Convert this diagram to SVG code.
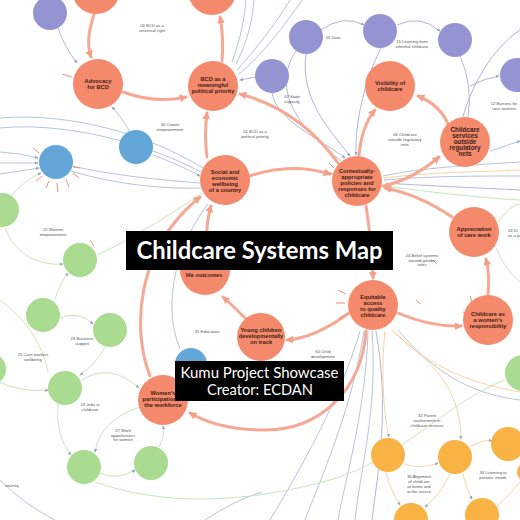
<svg xmlns="http://www.w3.org/2000/svg" width="520" height="520" viewBox="0 0 520 520">
<style>
.bg{fill:#ffffff}
.or{fill:#f4896c}
.pu{fill:#9594d3}
.bl{fill:#62a7d8}
.gr{fill:#a9db90}
.ye{fill:#f9b244}
.em{stroke:#f6a893;stroke-width:3;fill:none;stroke-linecap:round}
.eb{stroke:#b6c4db;stroke-width:1;fill:none}
.ep{stroke:#b3b4dd;stroke-width:1;fill:none}
.eg{stroke:#c9e5b9;stroke-width:1;fill:none}
.ey{stroke:#f4d6a3;stroke-width:1;fill:none}
.st{stroke:#ef8f78;stroke-width:1;fill:none}
.nt{font-family:"Liberation Sans",Arial,sans-serif;font-weight:bold;font-size:5.7px;fill:#3b1d14;text-anchor:middle}
.nt2{font-size:6.4px}
.lt{font-family:"Liberation Sans",Arial,sans-serif;font-size:4.2px;fill:#555;text-anchor:middle}
.tb{fill:#000000}
.tt{font-family:Lato,"Open Sans",sans-serif;font-weight:bold;font-size:24px;fill:#ffffff;text-anchor:middle}
.kt{font-family:Lato,"Open Sans",sans-serif;font-size:15px;fill:#ffffff;text-anchor:middle}
</style>
<defs>
<marker id="ah" viewBox="0 0 10 10" refX="8" refY="5" markerWidth="2.6" markerHeight="2.6" orient="auto"><path d="M0,0 L10,5 L0,10 z" fill="#f3a08a"/></marker>
<marker id="at" viewBox="0 0 10 10" refX="8" refY="5" markerWidth="4" markerHeight="4" orient="auto"><path d="M0,1 L10,5 L0,9 z" fill="#9aa6bf"/></marker>
</defs>
<rect class="bg" x="0" y="0" width="520" height="520"/>
<g id="connectors">
<path class="eb" d="M130,132 Q120,115 112,107" marker-end="url(#at)"/>
<path class="eb" d="M153,155 Q180,165 200,176" marker-end="url(#at)"/>
<path class="eb" d="M0,128 C60,122 140,140 201,172"/>
<path class="eb" d="M0,118 C70,112 150,135 203,168"/>
<path class="eb" d="M0,152 Q20,153 38,158" marker-end="url(#at)"/>
<path class="eb" d="M0,163 L38,163" marker-end="url(#at)"/>
<path class="eb" d="M0,174 Q20,171 39,168" marker-end="url(#at)"/>
<path class="eb" d="M72,166 C110,175 160,180 200,183"/>
<path class="eb" d="M71,171 C120,186 170,189 201,188"/>
<path class="eb" d="M180,349 C160,300 180,240 208,204"/>
<path class="eb" d="M246,0 C244,25 238,45 232,62"/>
<path class="eb" d="M254,0 C252,28 244,48 236,64"/>
<path class="eb" d="M237,70 C255,50 275,25 290,0"/>
<path class="eb" d="M239,74 C262,55 285,25 302,0"/>
<path class="eb" d="M360,331 C340,400 300,470 270,520"/>
<path class="eb" d="M364,331 C352,410 320,480 305,520"/>
<path class="eb" d="M368,331 C366,410 345,480 338,520"/>
<path class="eb" d="M372,331 C378,410 360,470 355,520"/>
<path class="eb" d="M398,330 C440,380 480,395 520,400"/>
<path class="eb" d="M0,480 Q25,505 55,520"/>
<path class="eb" d="M205,520 Q235,500 262,492"/>
<path class="eb" d="M383,176 C420,168 470,165 520,162"/>
<path class="eb" d="M384,180 C430,176 480,176 520,176"/>
<path class="eb" d="M490,151 Q505,146 520,141" marker-end="url(#at)"/>
<path class="ep" d="M58,28 Q65,48 77,63" marker-end="url(#at)"/>
<path class="ep" d="M321,30 Q343,14 364,25" marker-end="url(#at)"/>
<path class="ep" d="M397,25 Q420,14 440,31" marker-end="url(#at)"/>
<path class="ep" d="M306,54 C300,100 330,130 350,156" marker-end="url(#at)"/>
<path class="ep" d="M272,92 C275,120 322,140 345,158" marker-end="url(#at)"/>
<path class="ep" d="M381,48 C365,80 355,120 356,155" marker-end="url(#at)"/>
<path class="ep" d="M296,51 C270,90 300,130 341,161"/>
<path class="ep" d="M460,56 Q473,85 468,117"/>
<path class="ep" d="M520,30 C490,50 470,90 463,117"/>
<path class="ep" d="M470,86 Q485,78 499,76" marker-end="url(#at)"/>
<path class="ep" d="M256,77 L240,80" marker-end="url(#at)"/>
<path class="ep" d="M385,183 C430,186 480,188 520,190"/>
<path class="ep" d="M376,331 C390,410 378,470 372,520"/>
<path class="eg" d="M12,195 Q25,180 41,173" marker-end="url(#at)"/>
<path class="eg" d="M5,228 C15,255 40,266 63,264" marker-end="url(#at)"/>
<path class="eg" d="M97,255 C130,240 170,215 202,193"/>
<path class="eg" d="M55,299 Q60,283 68,273" marker-end="url(#at)"/>
<path class="eg" d="M60,318 Q78,310 93,324" marker-end="url(#at)"/>
<path class="eg" d="M105,347 Q95,365 80,375" marker-end="url(#at)"/>
<path class="eg" d="M-5,380 Q20,393 48,390" marker-end="url(#at)"/>
<path class="eg" d="M0,300 Q40,330 48,372"/>
<path class="eg" d="M82,380 Q110,362 139,388" marker-end="url(#at)"/>
<path class="eg" d="M58,404 Q55,435 71,455" marker-end="url(#at)"/>
<path class="eg" d="M100,473 Q118,481 135,470" marker-end="url(#at)"/>
<path class="eg" d="M159,447 Q165,436 163,426" marker-end="url(#at)"/>
<path class="eg" d="M140,407 Q100,420 95,452" marker-end="url(#at)"/>
<path class="eg" d="M95,482 C160,505 240,505 330,480 C400,460 450,400 505,380"/>
<path class="eg" d="M498,222 Q510,205 520,204"/>
<path class="eg" d="M496,248 Q505,270 520,282"/>
<path class="eg" d="M385,186 C430,192 480,198 520,200"/>
<path class="ey" d="M385,331 C380,380 385,420 389,437" marker-end="url(#at)"/>
<path class="ey" d="M393,331 C425,360 460,380 461,439" marker-end="url(#at)"/>
<path class="ey" d="M392,330 C430,370 480,385 520,392"/>
<path class="ey" d="M405,464 Q420,470 438,463" marker-end="url(#at)"/>
<path class="ey" d="M470,447 Q482,439 492,441" marker-end="url(#at)"/>
<path class="ey" d="M450,474 Q440,495 425,507" marker-end="url(#at)"/>
<path class="ey" d="M386,472 Q390,490 400,505" marker-end="url(#at)"/>
<path class="ey" d="M463,474 Q466,488 472,499" marker-end="url(#at)"/>
<path class="ey" d="M495,508 Q510,495 520,482"/>
<path class="ey" d="M384,178 C430,172 480,172 520,170"/>
<path class="em" d="M94,14 C88,33 87,45 91,57" marker-end="url(#ah)"/>
<path class="em" d="M123,92 Q156,104 186,97" marker-end="url(#ah)"/>
<path class="em" d="M222,61 Q224,38 220,17" marker-end="url(#ah)"/>
<path class="em" d="M207,157 Q204,135 207,113" marker-end="url(#ah)"/>
<path class="em" d="M338,163 Q300,110 240,94" marker-end="url(#ah)"/>
<path class="em" d="M250,176 Q290,162 330,174" marker-end="url(#ah)"/>
<path class="em" d="M359,155 Q362,125 375,110" marker-end="url(#ah)"/>
<path class="em" d="M448,124 Q440,105 418,96" marker-end="url(#ah)"/>
<path class="em" d="M383,186 Q412,180 439,157" marker-end="url(#ah)"/>
<path class="em" d="M452,217 Q420,195 385,188" marker-end="url(#ah)"/>
<path class="em" d="M366,206 Q372,245 373,278" marker-end="url(#ah)"/>
<path class="em" d="M488,295 Q490,275 486,259" marker-end="url(#ah)"/>
<path class="em" d="M398,313 Q430,327 461,326" marker-end="url(#ah)"/>
<path class="em" d="M349,313 Q315,338 287,340" marker-end="url(#ah)"/>
<path class="em" d="M245,318 Q232,305 223,297" marker-end="url(#ah)"/>
<path class="em" d="M207,240 Q206,222 211,206" marker-end="url(#ah)"/>
<path class="em" d="M150,376 C132,330 135,250 200,197" marker-end="url(#ah)"/>
<path class="em" d="M366,331 C362,390 320,430 265,430 C230,430 207,423 190,413" marker-end="url(#ah)"/>
<path class="st" d="M33,148 L39,153 M36,181 L42,176 M46,188 L49,181 M58,192 L57,183 M69,187 L66,179 M79,178 L73,173 M80,168 L73,167 M62,74 L72,77 M90,240 L94,246 M329,163 L334,168 M327,172 L333,174 M338,290 L346,294 M336,303 L345,303 M339,318 L347,314 M470,296 L472,302 M463,312 L468,314 M465,330 L469,327 M416,300 L420,304 M433,260 L437,264"/>
</g>
<g id="n-top-left"><circle class="or" cx="96" cy="-10" r="24"/></g>
<g id="n-top-mid"><circle class="or" cx="212" cy="-9" r="24"/></g>
<g id="n-advocacy"><circle class="or" cx="98" cy="84" r="25"/><text class="nt" x="98" y="83">Advocacy</text><text class="nt" x="98" y="89">for BCD</text></g>
<g id="n-bcd-priority"><circle class="or" cx="213" cy="86" r="25"/><text class="nt" x="213" y="81">BCD as a</text><text class="nt" x="213" y="87">meaningful</text><text class="nt" x="213" y="93">political priority</text></g>
<g id="n-social"><circle class="or" cx="225" cy="180" r="25"/><text class="nt" x="225" y="174">Social and</text><text class="nt" x="225" y="180">economic</text><text class="nt" x="225" y="186">wellbeing</text><text class="nt" x="225" y="192">of a country</text></g>
<g id="n-contextual"><circle class="or" cx="357" cy="181" r="25"/><text class="nt" x="357" y="173">Contextually-</text><text class="nt" x="357" y="179">appropriate</text><text class="nt" x="357" y="185">policies and</text><text class="nt" x="357" y="191">responses for</text><text class="nt" x="357" y="197">childcare</text></g>
<g id="n-visibility"><circle class="or" cx="390" cy="86" r="25"/><text class="nt" x="390" y="85">Visibility of</text><text class="nt" x="390" y="91">childcare</text></g>
<g id="n-outside"><circle class="or" cx="465" cy="142" r="25"/><text class="nt nt2" x="465" y="132">Childcare</text><text class="nt nt2" x="465" y="138">services</text><text class="nt nt2" x="465" y="144">outside</text><text class="nt nt2" x="465" y="150">regulatory</text><text class="nt nt2" x="465" y="156">nets</text></g>
<g id="n-appreciation"><circle class="or" cx="474" cy="232" r="25"/><text class="nt" x="474" y="231">Appreciation</text><text class="nt" x="474" y="237">of care work</text></g>
<g id="n-womens-resp"><circle class="or" cx="488" cy="320" r="25"/><text class="nt" x="488" y="316">Childcare as</text><text class="nt" x="488" y="322">a women's</text><text class="nt" x="488" y="328">responsibility</text></g>
<g id="n-equitable"><circle class="or" cx="373" cy="305" r="25"/><text class="nt" x="373" y="299">Equitable</text><text class="nt" x="373" y="305">access</text><text class="nt" x="373" y="311">to quality</text><text class="nt" x="373" y="317">childcare</text></g>
<g id="n-young"><circle class="or" cx="261" cy="337" r="24"/><text class="nt" x="261" y="332">Young children</text><text class="nt" x="261" y="338">developmentally</text><text class="nt" x="261" y="344">on track</text></g>
<g id="n-life"><circle class="or" cx="205" cy="270" r="25"/><text class="nt" x="204" y="277">life outcomes</text></g>
<g id="n-womens-part"><circle class="or" cx="163" cy="400" r="25"/><text class="nt" x="163" y="395">Women's</text><text class="nt" x="163" y="401">participation in</text><text class="nt" x="163" y="407">the workforce</text></g>
<g id="n-p1"><circle class="pu" cx="50" cy="13" r="17"/></g>
<g id="n-p2"><circle class="pu" cx="306" cy="37" r="17"/></g>
<g id="n-p3"><circle class="pu" cx="380" cy="31" r="17"/></g>
<g id="n-p4"><circle class="pu" cx="455" cy="40" r="17"/></g>
<g id="n-p5"><circle class="pu" cx="272" cy="76" r="17"/></g>
<g id="n-p6"><circle class="pu" cx="517" cy="75" r="17"/></g>
<g id="n-b1"><circle class="bl" cx="136" cy="147" r="17"/></g>
<g id="n-b2"><circle class="bl" cx="56" cy="162" r="17"/></g>
<g id="n-b3"><circle class="bl" cx="191" cy="364" r="16"/></g>
<g id="n-g1"><circle class="gr" cx="2" cy="210" r="17"/></g>
<g id="n-g2"><circle class="gr" cx="80" cy="260" r="17"/></g>
<g id="n-g3"><circle class="gr" cx="43" cy="315" r="17"/></g>
<g id="n-g4"><circle class="gr" cx="110" cy="330" r="17"/></g>
<g id="n-g5"><circle class="gr" cx="-10" cy="369" r="16"/></g>
<g id="n-g6"><circle class="gr" cx="65" cy="388" r="17"/></g>
<g id="n-g7"><circle class="gr" cx="84" cy="467" r="17"/></g>
<g id="n-g8"><circle class="gr" cx="151" cy="463" r="17"/></g>
<g id="n-g9"><circle class="gr" cx="523" cy="373" r="18"/></g>
<g id="n-y1"><circle class="ye" cx="388" cy="455" r="17"/></g>
<g id="n-y2"><circle class="ye" cx="455" cy="457" r="17"/></g>
<g id="n-y3"><circle class="ye" cx="508" cy="444" r="17"/></g>
<g id="n-y4"><circle class="ye" cx="411" cy="520" r="17"/></g>
<g id="n-y5"><circle class="ye" cx="482" cy="515" r="17"/></g>
<g id="n-y6"><circle class="ye" cx="527" cy="472" r="10"/></g>
<g id="edge-labels">
<text class="lt" x="152" y="27">06 BCD as a</text><text class="lt" x="152" y="32">universal right</text>
<text class="lt" x="170" y="126">30 Citizen</text><text class="lt" x="170" y="131">empowerment</text>
<text class="lt" x="255" y="133">01 BCD as a</text><text class="lt" x="255" y="138">political priority</text>
<text class="lt" x="333" y="39">16 Data</text>
<text class="lt" x="412" y="43">15 Learning from</text><text class="lt" x="412" y="48">informal childcare</text>
<text class="lt" x="292" y="98">07 State</text><text class="lt" x="292" y="103">capacity</text>
<text class="lt" x="405" y="136">06 Childcare</text><text class="lt" x="405" y="141">outside regulatory</text><text class="lt" x="405" y="146">nets</text>
<text class="lt" x="504" y="105">12 Barriers for</text><text class="lt" x="504" y="110">care workers</text>
<text class="lt" x="53" y="231">22 Women</text><text class="lt" x="53" y="236">empowerment</text>
<text class="lt" x="82" y="340">24 Business</text><text class="lt" x="82" y="345">support</text>
<text class="lt" x="33" y="356">25 Care workers</text><text class="lt" x="33" y="361">wellbeing</text>
<text class="lt" x="90" y="406">23 Jobs in</text><text class="lt" x="90" y="411">childcare</text>
<text class="lt" x="123" y="432">27 Work</text><text class="lt" x="123" y="437">opportunities</text><text class="lt" x="123" y="441">for women</text>
<text class="lt" x="12" y="487">ortunity</text>
<text class="lt" x="207" y="333">31 Education</text>
<text class="lt" x="323" y="353">60 Child</text><text class="lt" x="323" y="358">development</text>
<text class="lt" x="422" y="257">24 Belief systems</text><text class="lt" x="422" y="262">around gender</text><text class="lt" x="422" y="266">roles</text>
<text class="lt" x="508" y="232" style="text-anchor:start">24 Di</text><text class="lt" x="508" y="237" style="text-anchor:start">as a pr</text>
<text class="lt" x="427" y="417">32 Parent</text><text class="lt" x="427" y="422">involvement in</text><text class="lt" x="427" y="427">childcare services</text>
<text class="lt" x="419" y="478">36 Alignment</text><text class="lt" x="419" y="483">of childcare</text><text class="lt" x="419" y="488">at home and</text><text class="lt" x="419" y="493">at the source</text>
<text class="lt" x="493" y="474">34 Listening to</text><text class="lt" x="493" y="479">parents' needs</text>
</g>
<g id="title">
<rect class="tb" x="126" y="231" width="267" height="39"/>
<text class="tt" x="259.5" y="259" textLength="246" lengthAdjust="spacingAndGlyphs">Childcare Systems Map</text>
</g>
<g id="credit">
<rect class="tb" x="175" y="361" width="169" height="40"/>
<text class="kt" x="259.5" y="378" textLength="158" lengthAdjust="spacingAndGlyphs">Kumu Project Showcase</text>
<text class="kt" x="260" y="394.5" textLength="106" lengthAdjust="spacingAndGlyphs">Creator: ECDAN</text>
</g>
</svg>
